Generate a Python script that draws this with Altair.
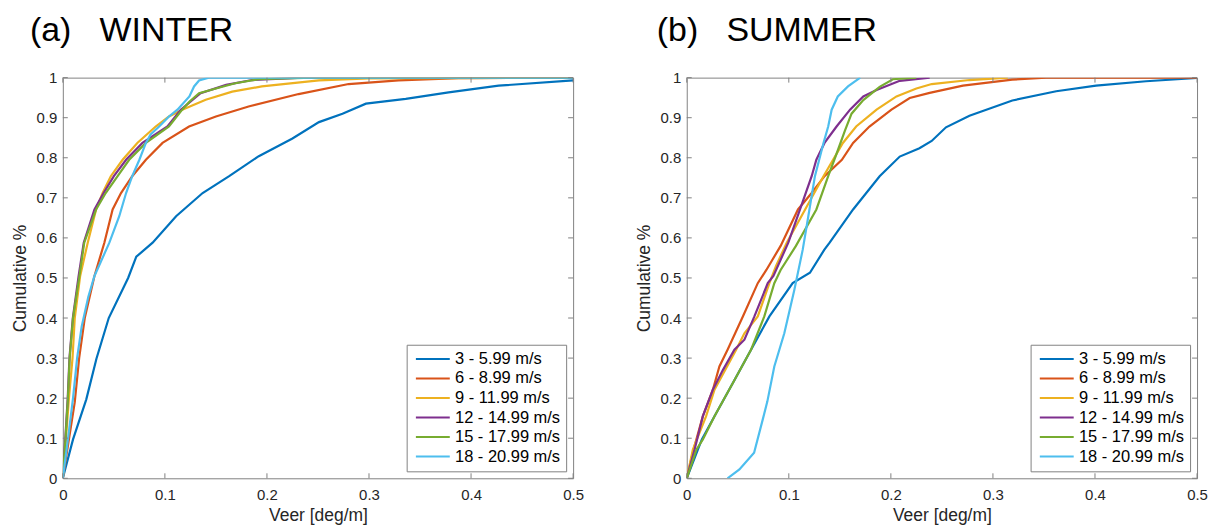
import altair as alt
import pandas as pd

FONT = "Liberation Sans"
GREY = "#828282"
TXT = "#262626"

SERIES = ["3 - 5.99 m/s", "6 - 8.99 m/s", "9 - 11.99 m/s",
          "12 - 14.99 m/s", "15 - 17.99 m/s", "18 - 20.99 m/s"]
COLORS = ["#0072BD", "#D95319", "#EDB120", "#7E2F8E", "#77AC30", "#4DBEEE"]
X_TICKS = [0, 0.1, 0.2, 0.3, 0.4, 0.5]
Y_TICKS = [0, 0.1, 0.2, 0.3, 0.4, 0.5, 0.6, 0.7, 0.8, 0.9, 1.0]

# ---------------- WINTER ----------------
W_BLUE_X = [0, 0.010, 0.023, 0.033, 0.045, 0.064, 0.072, 0.088, 0.111, 0.137, 0.163, 0.192, 0.225, 0.251, 0.274, 0.297, 0.336, 0.378, 0.427, 0.5]
W_BLUE_Y = [0, 0.097, 0.197, 0.299, 0.40, 0.50, 0.553, 0.588, 0.654, 0.712, 0.754, 0.804, 0.848, 0.889, 0.91, 0.935, 0.947, 0.963, 0.980, 0.993]
W_ORANGE_X = [0, 0.0117, 0.016, 0.0215, 0.031, 0.0407, 0.0488, 0.057, 0.068, 0.0814, 0.0977, 0.1237, 0.15, 0.182, 0.231, 0.280, 0.329, 0.394, 0.5]
W_ORANGE_Y = [0, 0.19, 0.30, 0.40, 0.505, 0.588, 0.671, 0.712, 0.754, 0.795, 0.837, 0.878, 0.903, 0.928, 0.959, 0.984, 0.993, 0.999, 1.0]
W_YELLOW_X = [0, 0.003, 0.006, 0.0095, 0.0117, 0.017, 0.0244, 0.0326, 0.039, 0.047, 0.0586, 0.073, 0.091, 0.104, 0.117, 0.14, 0.166, 0.195, 0.251, 0.30, 0.5]
W_YELLOW_Y = [0, 0.097, 0.2, 0.3, 0.4, 0.505, 0.588, 0.671, 0.712, 0.754, 0.795, 0.837, 0.878, 0.903, 0.92, 0.945, 0.965, 0.978, 0.993, 0.998, 1.0]
W_PURPLE_X = [0, 0.0024, 0.0048, 0.0065, 0.0098, 0.0155, 0.0205, 0.031, 0.040, 0.050, 0.062, 0.078, 0.1025, 0.1156, 0.135, 0.16, 0.1855, 0.235, 0.5]
W_PURPLE_Y = [0, 0.097, 0.2, 0.3, 0.4, 0.505, 0.588, 0.671, 0.712, 0.754, 0.795, 0.837, 0.878, 0.92, 0.961, 0.982, 0.994, 1.0, 1.0]
W_GREEN_X = [0, 0.0026, 0.005, 0.0067, 0.010, 0.0163, 0.021, 0.0326, 0.042, 0.0537, 0.065, 0.0814, 0.104, 0.117, 0.124, 0.1335, 0.15, 0.169, 0.192, 0.245, 0.5]
W_GREEN_Y = [0, 0.097, 0.2, 0.3, 0.4, 0.505, 0.588, 0.671, 0.712, 0.754, 0.795, 0.837, 0.878, 0.92, 0.94, 0.961, 0.973, 0.986, 0.996, 1.0, 1.0]
W_CYAN_X = [0, 0.005, 0.010, 0.014, 0.0185, 0.025, 0.031, 0.0456, 0.0553, 0.062, 0.068, 0.075, 0.0814, 0.086, 0.0944, 0.104, 0.1123, 0.124, 0.1286, 0.1335, 0.143, 0.5]
W_CYAN_Y = [0, 0.097, 0.2, 0.3, 0.379, 0.453, 0.505, 0.588, 0.654, 0.712, 0.754, 0.795, 0.837, 0.858, 0.878, 0.903, 0.92, 0.953, 0.978, 0.993, 1.0, 1.0]

# ---------------- SUMMER ----------------
S_BLUE_X = [0, 0.011, 0.0148, 0.0272, 0.0452, 0.063, 0.081, 0.1038, 0.1207, 0.1347, 0.140, 0.163, 0.189, 0.2087, 0.228, 0.240, 0.254, 0.277, 0.319, 0.362, 0.401, 0.45, 0.5]
S_BLUE_Y = [0, 0.072, 0.097, 0.155, 0.238, 0.321, 0.404, 0.487, 0.513, 0.57, 0.588, 0.671, 0.754, 0.803, 0.824, 0.842, 0.876, 0.905, 0.943, 0.966, 0.980, 0.991, 0.999]
S_ORANGE_X = [0, 0.0067, 0.0158, 0.0256, 0.032, 0.040, 0.055, 0.0696, 0.078, 0.092, 0.109, 0.1224, 0.135, 0.152, 0.163, 0.179, 0.2006, 0.2185, 0.238, 0.2706, 0.319, 0.352, 0.5]
S_ORANGE_Y = [0, 0.072, 0.155, 0.221, 0.279, 0.321, 0.404, 0.487, 0.52, 0.58, 0.671, 0.712, 0.754, 0.795, 0.837, 0.878, 0.92, 0.949, 0.962, 0.98, 0.995, 1.0, 1.0]
S_YELLOW_X = [0, 0.006, 0.019, 0.0272, 0.0484, 0.0565, 0.0696, 0.081, 0.0875, 0.098, 0.116, 0.134, 0.153, 0.166, 0.186, 0.2055, 0.225, 0.240, 0.277, 0.3146]
S_YELLOW_Y = [0, 0.072, 0.155, 0.221, 0.321, 0.362, 0.404, 0.487, 0.53, 0.588, 0.671, 0.754, 0.837, 0.878, 0.92, 0.953, 0.973, 0.984, 0.994, 1.0]
S_PURPLE_X = [0, 0.0077, 0.0158, 0.0256, 0.0354, 0.0467, 0.0565, 0.0663, 0.0794, 0.0849, 0.0995, 0.111, 0.1224, 0.127, 0.135, 0.1468, 0.16, 0.173, 0.186, 0.2087, 0.238]
S_PURPLE_Y = [0, 0.072, 0.155, 0.221, 0.27, 0.321, 0.346, 0.404, 0.487, 0.505, 0.588, 0.671, 0.754, 0.795, 0.837, 0.878, 0.92, 0.953, 0.969, 0.992, 1.0]
S_GREEN_X = [0, 0.0096, 0.0158, 0.0272, 0.0452, 0.063, 0.076, 0.0858, 0.092, 0.107, 0.127, 0.1386, 0.1468, 0.155, 0.1615, 0.173, 0.189, 0.202, 0.225]
S_GREEN_Y = [0, 0.072, 0.097, 0.155, 0.238, 0.321, 0.404, 0.487, 0.52, 0.58, 0.671, 0.754, 0.81, 0.868, 0.91, 0.944, 0.977, 0.996, 1.0]
S_CYAN_X = [0.040, 0.0516, 0.066, 0.0745, 0.079, 0.0858, 0.0956, 0.1054, 0.1136, 0.1175, 0.1256, 0.134, 0.1386, 0.142, 0.148, 0.158, 0.17]
S_CYAN_Y = [0, 0.022, 0.064, 0.147, 0.192, 0.279, 0.362, 0.47, 0.57, 0.629, 0.754, 0.837, 0.878, 0.92, 0.953, 0.978, 1.0]

WINTER_X = [W_BLUE_X, W_ORANGE_X, W_YELLOW_X, W_PURPLE_X, W_GREEN_X, W_CYAN_X]
WINTER_Y = [W_BLUE_Y, W_ORANGE_Y, W_YELLOW_Y, W_PURPLE_Y, W_GREEN_Y, W_CYAN_Y]
SUMMER_X = [S_BLUE_X, S_ORANGE_X, S_YELLOW_X, S_PURPLE_X, S_GREEN_X, S_CYAN_X]
SUMMER_Y = [S_BLUE_Y, S_ORANGE_Y, S_YELLOW_Y, S_PURPLE_Y, S_GREEN_Y, S_CYAN_Y]


def build_frame(xs_list, ys_list):
    rows = []
    for k, (name, xs, ys) in enumerate(zip(SERIES, xs_list, ys_list)):
        for i, (x, y) in enumerate(zip(xs, ys)):
            rows.append({"series": name, "k": k, "i": i, "veer": x, "cum": y})
    return pd.DataFrame(rows)


W = 512
H = 402
TL = 5

X_AXIS = alt.Axis(values=X_TICKS, format=".1~f", title="Veer [deg/m]",
                  labelFlush=False, domain=False, ticks=False, grid=False,
                  labelPadding=9, titlePadding=4,
                  labelFont=FONT, labelFontSize=15, labelColor=TXT,
                  titleFont=FONT, titleFontSize=17.5, titleColor=TXT,
                  titleFontWeight="normal")
Y_AXIS = alt.Axis(values=Y_TICKS, format=".1~f", title="Cumulative %",
                  labelFlush=False, domain=False, ticks=False, grid=False,
                  labelPadding=6, titlePadding=7,
                  labelFont=FONT, labelFontSize=15, labelColor=TXT,
                  titleFont=FONT, titleFontSize=17.5, titleColor=TXT,
                  titleFontWeight="normal")


def panel(df, title_text, dx):
    xs = alt.Scale(domain=[0, 0.5], nice=False, zero=False)
    ys = alt.Scale(domain=[0, 1], nice=False, zero=False)
    lines = alt.Chart(df).mark_line(strokeWidth=2.2, clip=True).encode(
        x=alt.X("veer:Q", scale=xs, axis=X_AXIS),
        y=alt.Y("cum:Q", scale=ys, axis=Y_AXIS),
        color=alt.Color("series:N",
                        scale=alt.Scale(domain=SERIES, range=COLORS),
                        legend=alt.Legend(title=None, orient="bottom-right", offset=7,
                                          symbolType="M-3.4,0H3.4", symbolSize=100,
                                          symbolStrokeWidth=2, symbolOffset=12,
                                          labelFontSize=16.5,
                                          labelFont=FONT, labelColor="black",
                                          labelOffset=14, rowPadding=2.6,
                                          padding=6, fillColor="white",
                                          strokeColor=GREY, cornerRadius=0)),
        detail="k:O",
        order="i:Q",
    )
    xt = pd.DataFrame({"veer": X_TICKS})
    yt = pd.DataFrame({"cum": Y_TICKS})
    bottom = alt.Chart(xt).mark_rule(color=GREY, strokeWidth=1).encode(
        x=alt.X("veer:Q", scale=xs, axis=X_AXIS), y=alt.value(H), y2=alt.value(H - TL))
    top = alt.Chart(xt).mark_rule(color=GREY, strokeWidth=1).encode(
        x=alt.X("veer:Q", scale=xs, axis=X_AXIS), y=alt.value(0), y2=alt.value(TL))
    left = alt.Chart(yt).mark_rule(color=GREY, strokeWidth=1).encode(
        y=alt.Y("cum:Q", scale=ys, axis=Y_AXIS), x=alt.value(0), x2=alt.value(TL))
    right = alt.Chart(yt).mark_rule(color=GREY, strokeWidth=1).encode(
        y=alt.Y("cum:Q", scale=ys, axis=Y_AXIS), x=alt.value(W), x2=alt.value(W - TL))
    return alt.layer(lines, bottom, top, left, right).properties(
        width=W, height=H,
        title=alt.Title(title_text, anchor="start", frame="group", dx=dx,
                        fontSize=34, fontWeight="normal", font=FONT,
                        color="black", offset=23),
    )


winter = panel(build_frame(WINTER_X, WINTER_Y), "(a)\u00a0\u00a0\u00a0WINTER", -33)
summer = panel(build_frame(SUMMER_X, SUMMER_Y), "(b)\u00a0\u00a0\u00a0SUMMER", -30)

chart = alt.hconcat(winter, summer, spacing=50).resolve_scale(
    color="independent").resolve_legend(color="independent").properties(
    padding={"left": 2, "top": 4, "right": 2, "bottom": 0},
    background="white",
).configure_view(stroke=GREY, strokeWidth=1)

chart.save("out.html", embed_options={"renderer": "svg", "actions": False})
